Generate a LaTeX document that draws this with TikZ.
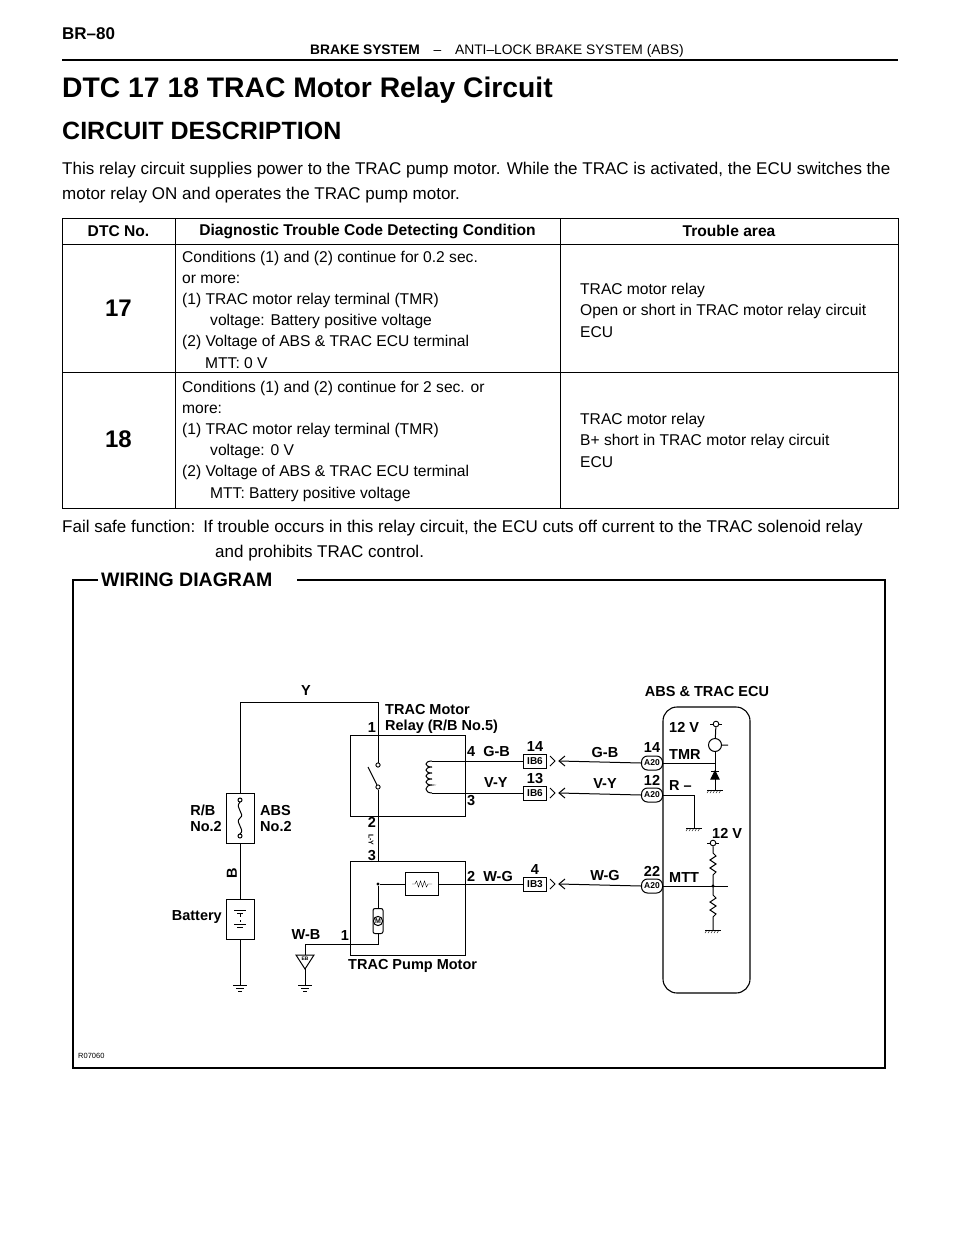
\documentclass[tikz,border=0pt]{standalone}
\usepackage{fontspec}
\setmainfont{Liberation Sans}
\usetikzlibrary{arrows.meta,decorations.pathmorphing}
\newcommand{\gndsym}[1]{\draw[wire] (#1) ++(-7,0) -- ++(14,0) ++(-11,3) -- ++(8,0) ++(-6,3) -- ++(4,0);}
\newcommand{\hgnd}[1]{\draw[wire] (#1) ++(-8,0) -- ++(16,0); \foreach \k in {-6,-3,0,3,6}{\draw[thin] (#1) ++(\k,0) -- ++(-2,3);}}
\begin{document}
\begin{tikzpicture}[x=1pt,y=-1pt,
  txt/.style={inner sep=0pt,anchor=west,font=\fontsize{17}{20}\selectfont},
  dtxt/.style={inner sep=0pt,font=\bfseries\fontsize{14.5}{16}\selectfont},
  wire/.style={line width=1pt},
  tl/.style={line width=0.7pt},
  conn/.style={draw,line width=1pt,minimum width=23pt,minimum height=14pt,inner sep=0pt,font=\bfseries\fontsize{10}{11}\selectfont},
  aconn/.style={draw,rounded corners=6pt,line width=1pt,minimum width=21pt,minimum height=14pt,inner sep=0pt,font=\bfseries\fontsize{8.5}{9}\selectfont},
  dot/.style={circle,fill,inner sep=1.2pt},
  term/.style={circle,draw,inner sep=2pt,line width=0.9pt}]
\useasboundingbox (0,0) rectangle (960,1242);
% header
\node[inner sep=0pt,anchor=west,font=\bfseries\fontsize{17}{20}\selectfont] (pg) at (62,34) {BR–80};
\node[inner sep=0pt,anchor=west,font=\fontsize{13.8}{16}\selectfont] (hd) at (310,51) {\textbf{BRAKE SYSTEM}\quad –\quad ANTI–LOCK BRAKE SYSTEM (ABS)};
\draw[line width=1.6pt] (62,60) -- (898,60);
\node[inner sep=0pt,anchor=west,font=\bfseries\fontsize{28.3}{32}\selectfont] (title) at (62,90) {DTC 17 18 TRAC Motor Relay Circuit};
\node[inner sep=0pt,anchor=west,font=\bfseries\fontsize{25}{28}\selectfont] (cd) at (62,131) {CIRCUIT DESCRIPTION};
\node[txt] (p1) at (62,170) {This relay circuit supplies power to the TRAC pump motor. While the TRAC is activated, the ECU switches the};
\node[txt] (p2) at (62,195) {motor relay ON and operates the TRAC pump motor.};
% table
\draw[tl] (62,218) rectangle (898,508);
\draw[tl] (62,244) -- (898,244) (62,372) -- (898,372);
\draw[tl] (175,218) -- (175,508) (560,218) -- (560,508);
\node[inner sep=0pt,font=\bfseries\fontsize{15.6}{18}\selectfont] (h1) at (118.5,231) {DTC No.};
\node[inner sep=0pt,font=\bfseries\fontsize{15.6}{18}\selectfont] (h2) at (367.5,231) {Diagnostic Trouble Code Detecting Condition};
\node[inner sep=0pt,font=\bfseries\fontsize{15.6}{18}\selectfont] (h3) at (729,231) {Trouble area};
\node[inner sep=0pt,font=\bfseries\fontsize{24}{26}\selectfont] (d17) at (118.5,308) {17};
\node[inner sep=0pt,font=\bfseries\fontsize{24}{26}\selectfont] (d18) at (118.5,439) {18};
\begin{scope}[every node/.style={inner sep=0pt,anchor=west,font=\fontsize{15.6}{18}\selectfont}]
\node (a1) at (182,258) {Conditions (1) and (2) continue for 0.2 sec.};
\node (a2) at (182,279) {or more:};
\node (a3) at (182,300) {(1) TRAC motor relay terminal (TMR)};
\node (a4) at (210,321) {voltage: Battery positive voltage};
\node (a5) at (182,342) {(2) Voltage of ABS \& TRAC ECU terminal};
\node (a6) at (205,363) {MTT: 0 V};
\node (b1) at (182,388) {Conditions (1) and (2) continue for 2 sec. or};
\node (b2) at (182,409) {more:};
\node (b3) at (182,430) {(1) TRAC motor relay terminal (TMR)};
\node (b4) at (210,451) {voltage: 0 V};
\node (b5) at (182,472) {(2) Voltage of ABS \& TRAC ECU terminal};
\node (b6) at (210,494) {MTT: Battery positive voltage};
\node (c1) at (580,290) {TRAC motor relay};
\node (c2) at (580,311) {Open or short in TRAC motor relay circuit};
\node (c3) at (580,332) {ECU};
\node (e1) at (580,420) {TRAC motor relay};
\node (e2) at (580,441) {B+ short in TRAC motor relay circuit};
\node (e3) at (580,462) {ECU};
\end{scope}
\node[txt] (f1) at (62,528) {Fail safe function:\hspace{8pt}If trouble occurs in this relay circuit, the ECU cuts off current to the TRAC solenoid relay};
\node[txt] (f2) at (215,553) {and prohibits TRAC control.};
% wiring frame
\draw[line width=1.3pt] (98,580) -- (73,580) -- (73,1068) -- (885,1068) -- (885,580) -- (297,580);
\node[inner sep=0pt,anchor=west,font=\bfseries\fontsize{19.5}{22}\selectfont] (wd) at (101,580) {WIRING DIAGRAM};
\node[inner sep=0pt,anchor=west,font=\fontsize{7.5}{8}\selectfont] (rc) at (78,1056) {R07060};
% left branch
\coordinate (yl) at (240,702); \coordinate (yr) at (378,702);
\draw[wire] (240,985) -- (yl) -- (yr) -- (378,765);
\node[dtxt] (ylab) at (306,691) {Y};
\node[draw,wire,fill=white,minimum width=28pt,minimum height=50pt,inner sep=0pt] (rb) at (240,818) {};
\draw[wire] (240,800) circle (2) (240,836) circle (2);
\draw[wire] (240,802) .. controls (234,808) and (246,814) .. (240,818) .. controls (234,823) and (246,829) .. (240,834);
\node[dtxt,anchor=east,align=left] (rbl) at (222,818) {R/B\\No.2};
\node[dtxt,anchor=west,align=left] (absl) at (260,818) {ABS\\No.2};
\node[dtxt,rotate=90] (bl) at (232,873) {B};
\node[draw,wire,fill=white,minimum width=28pt,minimum height=40pt,inner sep=0pt] (bat) at (240,919) {};
\draw[wire] (234,910) -- (246,910) (237,913) -- (243,913) (234,924) -- (246,924) (237,927) -- (243,927);
\draw[wire,dashed] (240,914) -- (240,922);
\node[dtxt,anchor=east] (batl) at (222,917) {Battery};
\gndsym{240,985}
% relay
\draw[wire] (350,735) rectangle (465,816);
\node[dtxt,anchor=west,align=left] (rel) at (385,719) {TRAC Motor\\Relay (R/B No.5)};
\node[dtxt] (r1) at (372,728) {1};
\node[term,inner sep=1.5pt,fill=white] (c1u) at (378,765) {};
\node[term,inner sep=1.5pt,fill=white] (c1d) at (378,787) {};
\draw[wire] (c1d) -- (368,767);
\draw[wire] (c1d) -- (378,861);
\draw[wire] (432,761) -- (523,761) (432,793) -- (523,793);
\draw[wire] (432,761) .. controls (424,761) and (424,767) .. (432,767) .. controls (424,767) and (424,773) .. (432,773) .. controls (424,773) and (424,779) .. (432,779) .. controls (424,779) and (424,785) .. (432,785) .. controls (424,785) and (424,793) .. (432,793);
\node[dtxt,anchor=west] (l4) at (467,751) {4\ \ G-B};
\node[dtxt,anchor=west] (lvy) at (484,783) {V-Y};
\node[dtxt,anchor=west] (l3) at (467,801) {3};
\node[dtxt] (r2) at (372,822) {2};
\node[inner sep=0pt,rotate=-90,font=\bfseries\fontsize{7}{8}\selectfont] (ly) at (371,840) {L-Y};
\node[dtxt] (r3b) at (372,856) {3};
% pump
\draw[wire] (350,861) rectangle (465,955);
\node[dot] (jn) at (378,884) {};
\node[draw,wire,minimum width=33pt,minimum height=23pt,inner sep=0pt] (res) at (422,884) {};
\draw[thin] (412,884) -- (415,884) -- (416.5,881) -- (418.5,887) -- (420.5,881) -- (422.5,887) -- (424.5,881) -- (426.5,887) -- (428,884) -- (432,884);
\draw[wire] (jn) -- (res) (res) -- (523,884);
\draw[wire] (jn) -- (378,908);
\node[draw,wire,minimum width=10pt,minimum height=25pt,inner sep=0pt,rounded corners=2pt] (mot) at (378,921) {};
\node[circle,draw,wire,fill=white,inner sep=0.6pt,font=\bfseries\fontsize{7}{8}\selectfont] (mm) at (378,921) {M};
\draw[wire] (378,933) -- (378,944) -- (305,944) -- (305,955);
\node[dtxt,anchor=west] (l2) at (467,876) {2\ \ W-G};
\node[dtxt] (p1l) at (345,936) {1};
\node[dtxt] (wbl) at (306,935) {W-B};
\node[dtxt,anchor=west] (pml) at (348,966) {TRAC Pump Motor};
\draw[wire] (296,955) -- (314,955) -- (305,969) -- cycle;
\node[inner sep=0pt,font=\bfseries\fontsize{5}{5}\selectfont] (eb) at (305,959) {EB};
\draw[wire] (305,969) -- (305,985);
\gndsym{305,985}
% junction connectors
\foreach \y/\n/\t/\nm in {761/14/IB6/ka,793/13/IB6/kb,884/4/IB3/kc}{
  \node[conn] (\nm) at (535,\y) {\t};
  \node[dtxt] at (535,\y-14) {\n};
  \draw[wire] (550,\y-5) -- (555,\y) -- (550,\y+5);
  \draw[wire] (565,\y-5) -- (559,\y) -- (565,\y+5);
}
% ECU
\draw[line width=1.1pt,rounded corners=14pt] (663,707) rectangle (750,993);
\node[dtxt] (ecul) at (707,691) {ABS \& TRAC ECU};
\foreach \y/\n/\nm in {763/14/aa,795/12/ab,886/22/ac}{
  \node[aconn] (\nm) at (652,\y) {A20};
  \node[dtxt] at (652,\y-15) {\n};
}
\draw[wire] (559,761) -- (aa.west) (559,793) -- (ab.west) (559,884) -- (ac.west);
\node[dtxt] (gb2) at (605,752) {G-B};
\node[dtxt] (vy2) at (605,784) {V-Y};
\node[dtxt] (wg2) at (605,875) {W-G};
\node[dtxt,anchor=west] (tmr) at (669,755) {TMR};
\node[dtxt,anchor=west] (rm) at (669,786) {R –};
\node[dtxt,anchor=west] (mtt) at (669,878) {MTT};
\node[dtxt,anchor=west] (v12a) at (669,727) {12 V};
\node[dtxt,anchor=west] (v12b) at (712,833) {12 V};
\node[term] (t1) at (716,724) {};
\draw[wire] (t1.west) -- ++(-3,0) (t1.east) -- ++(3,0);
\node[circle,draw,wire,minimum size=13pt,inner sep=0pt] (tr) at (715,745) {};
\draw[wire] (t1) -- (tr) (tr.east) -- ++(6,0);
\draw[wire] (aa.east) -- (715,763);
\draw[wire] (tr) -- (715,790);
\draw[wire,fill] (711,779) -- (719,779) -- (715,771) -- cycle;
\draw[wire] (711,771) -- (719,771);
\hgnd{715,790}
\draw[wire] (ab.east) -- (694,795) -- (694,828);
\hgnd{694,828}
\node[term] (t2) at (713,843) {};
\draw[wire] (t2.west) -- ++(-3,0) (t2.east) -- ++(3,0);
\draw[wire] (t2) -- (713,853) -- (716,856) -- (710,860) -- (716,864) -- (710,868) -- (716,872) -- (713,875) -- (713,895) -- (716,898) -- (710,902) -- (716,906) -- (710,910) -- (716,914) -- (713,917) -- (713,930);
\draw[wire] (ac.east) -- (728,886);
\node[dot] (jm) at (713,886) {};
\hgnd{713,930}
\end{tikzpicture}
\end{document}
